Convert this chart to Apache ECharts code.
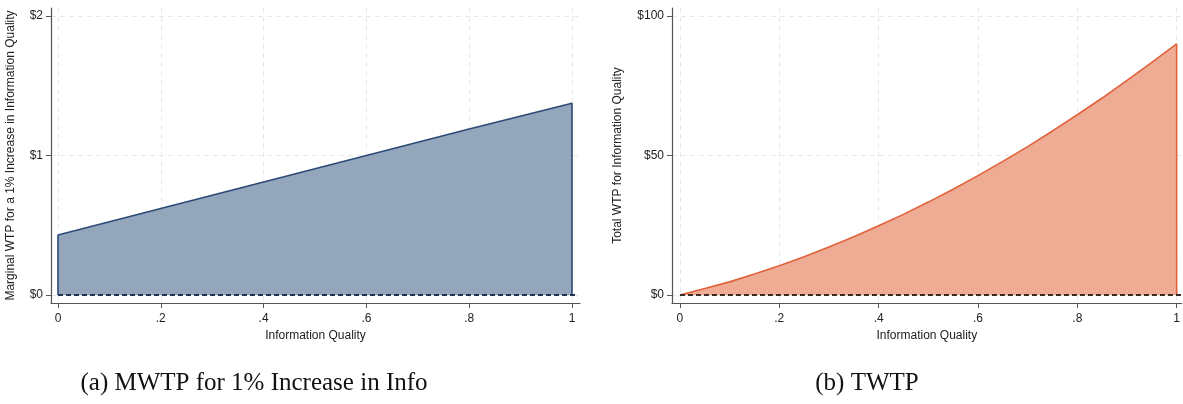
<!DOCTYPE html>
<html>
<head>
<meta charset="utf-8">
<script src="https://cdn.jsdelivr.net/npm/echarts@6/dist/echarts.min.js"></script>
<style>
  html, body { margin: 0; padding: 0; background: #fff; }
  #chart { width: 1183px; height: 404px; }
</style>
</head>
<body>
<div id="chart"></div>
<script>
// Panel (a): marginal WTP, linear in information quality
const mwtpQuality = [0, 0.2, 0.4, 0.6, 0.8, 1];
const mwtpValues = [0.43, 0.62, 0.81, 1.0, 1.19, 1.375];

// Panel (b): total WTP
const twtpQuality = [0, 0.05, 0.1, 0.15, 0.2, 0.25, 0.3, 0.35, 0.4, 0.45, 0.5,
  0.55, 0.6, 0.65, 0.7, 0.75, 0.8, 0.85, 0.9, 0.95, 1];
const twtpValues = [0, 2.3, 4.7, 7.5, 10.5, 13.7, 17.2, 20.9, 24.8, 28.9, 33.3,
  37.9, 42.8, 47.9, 53.2, 58.8, 64.6, 70.6, 76.9, 83.4, 90.0];

// Tick labels
const xTickValues = [0, 0.2, 0.4, 0.6, 0.8, 1];
const xTickLabels = ['0', '.2', '.4', '.6', '.8', '1'];
const mwtpTickValues = [0, 1, 2];
const mwtpTickLabels = ['$0', '$1', '$2'];
const twtpTickValues = [0, 50, 100];
const twtpTickLabels = ['$0', '$50', '$100'];

const captions = ['(a) MWTP for 1% Increase in Info', '(b) TWTP'];
const xTitle = 'Information Quality';
const yTitles = ['Marginal WTP for a 1% Increase in Information Quality', 'Total WTP for Information Quality'];

const FONT = '"Liberation Sans", Arial, sans-serif';
const SERIF = '"Liberation Serif", "Times New Roman", serif';

// area outline closes down to zero at both ends, like the original
function areaData(xs, ys) {
  const pts = xs.map((x, i) => [x, ys[i]]);
  return [[xs[0], 0], ...pts, [xs[xs.length - 1], 0]];
}

function lookup(values, labels) {
  return v => {
    const i = values.findIndex(t => Math.abs(t - v) < 1e-6);
    return i >= 0 ? labels[i] : '';
  };
}

function xAxisOpt(gridIndex, min, max) {
  return {
    type: 'value',
    gridIndex,
    min,
    max,
    name: xTitle,
    nameLocation: 'middle',
    nameGap: 25,
    nameTextStyle: { fontFamily: FONT, fontSize: 12, color: '#222' },
    axisLine: { show: true, onZero: false, lineStyle: { color: '#555', width: 1.2 } },
    axisTick: { show: true, length: 5, customValues: xTickValues, lineStyle: { color: '#555' } },
    axisLabel: {
      customValues: xTickValues,
      margin: 10,
      fontFamily: FONT,
      fontSize: 12,
      color: '#222',
      formatter: lookup(xTickValues, xTickLabels)
    },
    splitLine: { show: true, lineStyle: { color: '#e8e8e8', type: [5, 4] } }
  };
}

function yAxisOpt(gridIndex, min, max, ticks, labels, title, gap) {
  return {
    type: 'value',
    gridIndex,
    min,
    max,
    name: title,
    nameLocation: 'middle',
    nameGap: gap,
    nameTextStyle: { fontFamily: FONT, fontSize: 12, color: '#222' },
    axisLine: { show: true, onZero: false, lineStyle: { color: '#555', width: 1.2 } },
    axisTick: { show: true, length: 5, customValues: ticks, lineStyle: { color: '#555' } },
    axisLabel: {
      customValues: ticks,
      margin: 8,
      fontFamily: FONT,
      fontSize: 12,
      color: '#222',
      formatter: lookup(ticks, labels)
    },
    splitLine: { show: true, lineStyle: { color: '#e8e8e8', type: [5, 4] } }
  };
}

// dashed reference line at $0, from x = 0 to the right edge of the plot
function zeroLine(color, xEnd) {
  return {
    silent: true,
    symbol: ['none', 'none'],
    label: { show: false },
    animation: false,
    lineStyle: { color, type: [5, 3], width: 1.8 },
    data: [[{ coord: [0, 0] }, { coord: [xEnd, 0] }]]
  };
}

const chart = echarts.init(document.getElementById('chart'));

chart.setOption({
  animation: false,
  backgroundColor: '#fff',
  grid: [
    { left: 51, top: 8, width: 529, height: 295 },
    { left: 672, top: 8, width: 511, height: 295 }
  ],
  xAxis: [
    xAxisOpt(0, -0.0136, 1.0156),
    xAxisOpt(1, -0.016, 1.010)
  ],
  yAxis: [
    yAxisOpt(0, -0.0573, 2.0573, mwtpTickValues, mwtpTickLabels, yTitles[0], 34),
    yAxisOpt(1, -2.87, 102.87, twtpTickValues, twtpTickLabels, yTitles[1], 48)
  ],
  series: [
    {
      type: 'line',
      xAxisIndex: 0,
      yAxisIndex: 0,
      data: areaData(mwtpQuality, mwtpValues),
      showSymbol: false,
      lineStyle: { color: '#2c4a75', width: 1.6 },
      areaStyle: { color: '#94a6bb', opacity: 1 },
      markLine: zeroLine('#1f3352', 1.008)
    },
    {
      type: 'line',
      xAxisIndex: 1,
      yAxisIndex: 1,
      data: areaData(twtpQuality, twtpValues),
      showSymbol: false,
      lineStyle: { color: '#e0613a', width: 1.6 },
      areaStyle: { color: '#eeac94', opacity: 1 },
      markLine: zeroLine('#3b2a24', 1.010)
    }
  ],
  graphic: [
    {
      type: 'text',
      x: 254,
      y: 383,
      style: {
        text: captions[0],
        font: '25px ' + SERIF,
        fill: '#111',
        textAlign: 'center',
        textVerticalAlign: 'middle'
      }
    },
    {
      type: 'text',
      x: 867,
      y: 383,
      style: {
        text: captions[1],
        font: '25px ' + SERIF,
        fill: '#111',
        textAlign: 'center',
        textVerticalAlign: 'middle'
      }
    }
  ]
});
</script>
</body>
</html>
